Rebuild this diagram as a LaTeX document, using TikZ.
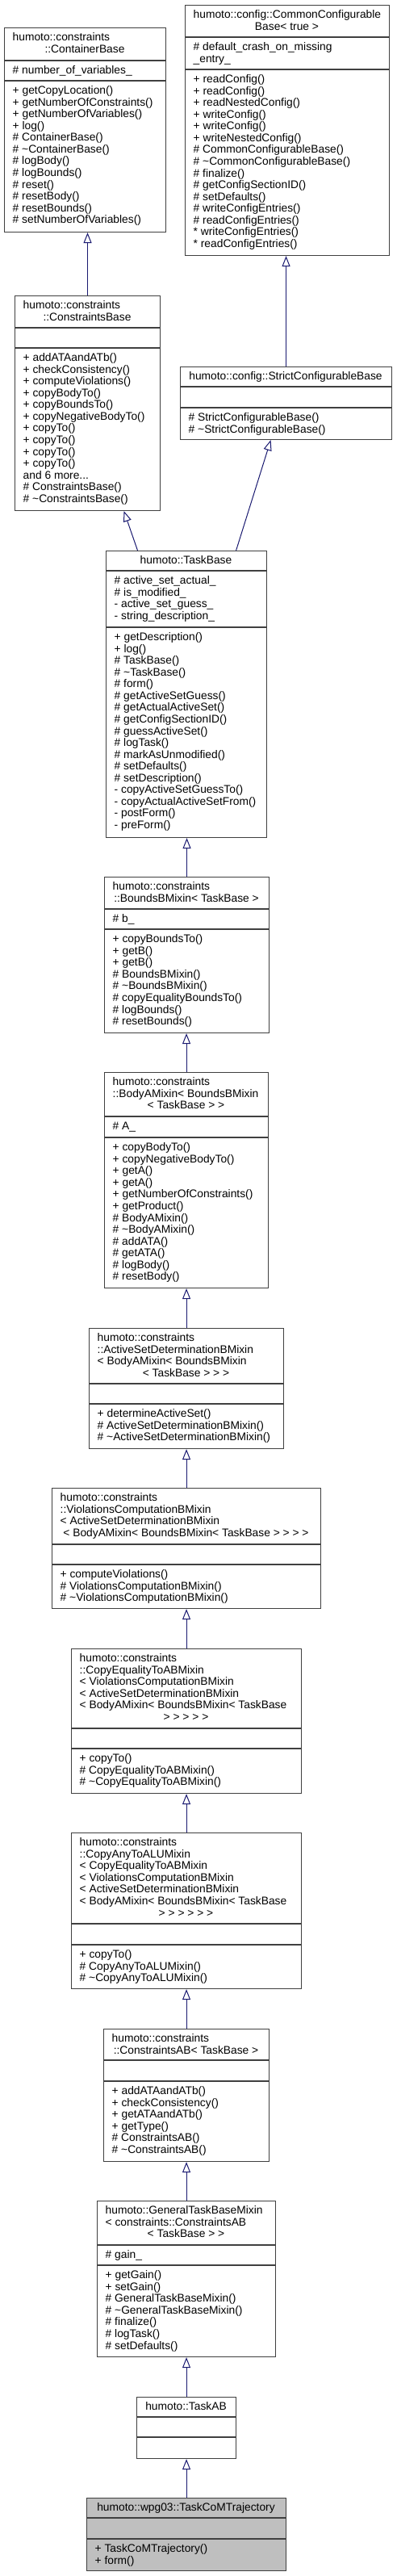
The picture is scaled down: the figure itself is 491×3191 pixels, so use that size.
\documentclass[tikz,border=0pt]{standalone}
\usepackage{fontspec}
\setmainfont{Liberation Sans}
\usetikzlibrary{arrows.meta}

\definecolor{boxgray}{HTML}{404040}
\definecolor{arrowblue}{HTML}{191970}
\definecolor{leafgray}{HTML}{BFBFBF}

\newcommand{\umlfont}{\fontsize{13.8}{14.55}\selectfont}

\tikzset{
	classbox/.style={draw=boxgray, line width=1.1pt, fill=white, inner sep=0pt, anchor=north west},
	classsep/.style={draw=boxgray, line width=1.1pt},
	member/.style={inner sep=0pt, anchor=north west, align=left, font=\umlfont},
	nameline/.style={inner sep=0pt, anchor=north, font=\umlfont},
	inheritance/.style={draw=arrowblue, line width=1pt, -{Triangle[open, length=13pt, width=10pt]}}
}

\begin{document}
\begin{tikzpicture}[x=1pt, y=-1pt]
	\fill[white] (0,0) rectangle (491,3191);
	\useasboundingbox (0,0) rectangle (491,3191);
	
	% ContainerBase
	\node[classbox, minimum width=200pt, minimum height=253pt] (ContainerBase) at (5,34) {};
	\draw[classsep] (5,75) -- (205,75);
	\draw[classsep] (5,100) -- (205,100);
	\node[member] (ContainerBase-name) at (15.5,40.3) {\strut humoto::constraints};
	\node[nameline] (ContainerBase-name2) at (105,54.85) {\strut ::ContainerBase};
	\node[member] (ContainerBase-attr) at (15.5,81.3) {\strut \# number\_of\_variables\_};
	\node[member] (ContainerBase-ops) at (15.5,106.3) {\strut + getCopyLocation()\\+ getNumberOfConstraints()\\+ getNumberOfVariables()\\+ log()\\\# ContainerBase()\\\# \textasciitilde ContainerBase()\\\# logBody()\\\# logBounds()\\\# reset()\\\# resetBody()\\\# resetBounds()\\\# setNumberOfVariables()};
	
	% CommonConfigurableBase
	\node[classbox, minimum width=253pt, minimum height=310pt] (CommonConfigurableBase) at (229,6) {};
	\draw[classsep] (229,46) -- (482,46);
	\draw[classsep] (229,86) -- (482,86);
	\node[member] (CommonConfigurableBase-name) at (239.5,12.3) {\strut humoto::config::CommonConfigurable};
	\node[nameline] (CommonConfigurableBase-name2) at (355.5,26.85) {\strut Base< true >};
	\node[member] (CommonConfigurableBase-attr) at (239.5,52.3) {\strut \# default\_crash\_on\_missing\\\_entry\_};
	\node[member] (CommonConfigurableBase-ops) at (239.5,92.3) {\strut + readConfig()\\+ readConfig()\\+ readNestedConfig()\\+ writeConfig()\\+ writeConfig()\\+ writeNestedConfig()\\\# CommonConfigurableBase()\\\# \textasciitilde CommonConfigurableBase()\\\# finalize()\\\# getConfigSectionID()\\\# setDefaults()\\\# writeConfigEntries()\\\# readConfigEntries()\\* writeConfigEntries()\\* readConfigEntries()};
	
	% ConstraintsBase
	\node[classbox, minimum width=180pt, minimum height=266pt] (ConstraintsBase) at (18,366) {};
	\draw[classsep] (18,406) -- (198,406);
	\draw[classsep] (18,431) -- (198,431);
	\node[member] (ConstraintsBase-name) at (28.5,372.3) {\strut humoto::constraints};
	\node[nameline] (ConstraintsBase-name2) at (108,386.85) {\strut ::ConstraintsBase};
	\node[member] (ConstraintsBase-ops) at (28.5,437.3) {\strut + addATAandATb()\\+ checkConsistency()\\+ computeViolations()\\+ copyBodyTo()\\+ copyBoundsTo()\\+ copyNegativeBodyTo()\\+ copyTo()\\+ copyTo()\\+ copyTo()\\+ copyTo()\\and 6 more...\\\# ConstraintsBase()\\\# \textasciitilde ConstraintsBase()};
	
	% StrictConfigurableBase
	\node[classbox, minimum width=262pt, minimum height=90pt] (StrictConfigurableBase) at (223,454) {};
	\draw[classsep] (223,479) -- (485,479);
	\draw[classsep] (223,505) -- (485,505);
	\node[nameline] (StrictConfigurableBase-name) at (354,460.3) {\strut humoto::config::StrictConfigurableBase};
	\node[member] (StrictConfigurableBase-ops) at (233.5,511.3) {\strut \# StrictConfigurableBase()\\\# \textasciitilde StrictConfigurableBase()};
	
	% TaskBase
	\node[classbox, minimum width=199pt, minimum height=355pt] (TaskBase) at (131,682) {};
	\draw[classsep] (131,707) -- (330,707);
	\draw[classsep] (131,777) -- (330,777);
	\node[nameline] (TaskBase-name) at (230.5,688.3) {\strut humoto::TaskBase};
	\node[member] (TaskBase-attr) at (141.5,713.3) {\strut \# active\_set\_actual\_\\\# is\_modified\_\\- active\_set\_guess\_\\- string\_description\_};
	\node[member] (TaskBase-ops) at (141.5,783.3) {\strut + getDescription()\\+ log()\\\# TaskBase()\\\# \textasciitilde TaskBase()\\\# form()\\\# getActiveSetGuess()\\\# getActualActiveSet()\\\# getConfigSectionID()\\\# guessActiveSet()\\\# logTask()\\\# markAsUnmodified()\\\# setDefaults()\\\# setDescription()\\- copyActiveSetGuessTo()\\- copyActualActiveSetFrom()\\- postForm()\\- preForm()};
	
	% BoundsBMixin
	\node[classbox, minimum width=204pt, minimum height=193pt] (BoundsBMixin) at (129,1086) {};
	\draw[classsep] (129,1126) -- (333,1126);
	\draw[classsep] (129,1151) -- (333,1151);
	\node[member] (BoundsBMixin-name) at (139.5,1092.3) {\strut humoto::constraints};
	\node[nameline] (BoundsBMixin-name2) at (231,1106.85) {\strut ::BoundsBMixin< TaskBase >};
	\node[member] (BoundsBMixin-attr) at (139.5,1132.3) {\strut \# b\_};
	\node[member] (BoundsBMixin-ops) at (139.5,1157.3) {\strut + copyBoundsTo()\\+ getB()\\+ getB()\\\# BoundsBMixin()\\\# \textasciitilde BoundsBMixin()\\\# copyEqualityBoundsTo()\\\# logBounds()\\\# resetBounds()};
	
	% BodyAMixin
	\node[classbox, minimum width=203pt, minimum height=267pt] (BodyAMixin) at (129,1328) {};
	\draw[classsep] (129,1383) -- (332,1383);
	\draw[classsep] (129,1409) -- (332,1409);
	\node[member] (BodyAMixin-name) at (139.5,1334.3) {\strut humoto::constraints\\::BodyAMixin< BoundsBMixin};
	\node[nameline] (BodyAMixin-name2) at (230.5,1363.4) {\strut < TaskBase > >};
	\node[member] (BodyAMixin-attr) at (139.5,1389.3) {\strut \# A\_};
	\node[member] (BodyAMixin-ops) at (139.5,1415.3) {\strut + copyBodyTo()\\+ copyNegativeBodyTo()\\+ getA()\\+ getA()\\+ getNumberOfConstraints()\\+ getProduct()\\\# BodyAMixin()\\\# \textasciitilde BodyAMixin()\\\# addATA()\\\# getATA()\\\# logBody()\\\# resetBody()};
	
	% ActiveSetDeterminationBMixin
	\node[classbox, minimum width=241pt, minimum height=149pt] (ActiveSetDetermination) at (110,1645) {};
	\draw[classsep] (110,1714) -- (351,1714);
	\draw[classsep] (110,1739) -- (351,1739);
	\node[member] (ActiveSetDetermination-name) at (120.5,1651.3) {\strut humoto::constraints\\::ActiveSetDeterminationBMixin\\< BodyAMixin< BoundsBMixin};
	\node[nameline] (ActiveSetDetermination-name2) at (230.5,1694.95) {\strut < TaskBase > > >};
	\node[member] (ActiveSetDetermination-ops) at (120.5,1745.3) {\strut + determineActiveSet()\\\# ActiveSetDeterminationBMixin()\\\# \textasciitilde ActiveSetDeterminationBMixin()};
	
	% ViolationsComputationBMixin
	\node[classbox, minimum width=333pt, minimum height=149pt] (ViolationsComputation) at (64,1843) {};
	\draw[classsep] (64,1913) -- (397,1913);
	\draw[classsep] (64,1938) -- (397,1938);
	\node[member] (ViolationsComputation-name) at (74.5,1849.3) {\strut humoto::constraints\\::ViolationsComputationBMixin\\< ActiveSetDeterminationBMixin};
	\node[nameline] (ViolationsComputation-name2) at (230.5,1892.95) {\strut < BodyAMixin< BoundsBMixin< TaskBase > > > >};
	\node[member] (ViolationsComputation-ops) at (74.5,1944.3) {\strut + computeViolations()\\\# ViolationsComputationBMixin()\\\# \textasciitilde ViolationsComputationBMixin()};
	
	% CopyEqualityToABMixin
	\node[classbox, minimum width=285pt, minimum height=179pt] (CopyEqualityToAB) at (88,2042) {};
	\draw[classsep] (88,2141) -- (373,2141);
	\draw[classsep] (88,2166) -- (373,2166);
	\node[member] (CopyEqualityToAB-name) at (98.5,2048.3) {\strut humoto::constraints\\::CopyEqualityToABMixin\\< ViolationsComputationBMixin\\< ActiveSetDeterminationBMixin\\< BodyAMixin< BoundsBMixin< TaskBase};
	\node[nameline] (CopyEqualityToAB-name2) at (230.5,2121.05) {\strut > > > > >};
	\node[member] (CopyEqualityToAB-ops) at (98.5,2172.3) {\strut + copyTo()\\\# CopyEqualityToABMixin()\\\# \textasciitilde CopyEqualityToABMixin()};
	
	% CopyAnyToALUMixin
	\node[classbox, minimum width=285pt, minimum height=193pt] (CopyAnyToALU) at (88,2270) {};
	\draw[classsep] (88,2383) -- (373,2383);
	\draw[classsep] (88,2409) -- (373,2409);
	\node[member] (CopyAnyToALU-name) at (98.5,2276.3) {\strut humoto::constraints\\::CopyAnyToALUMixin\\< CopyEqualityToABMixin\\< ViolationsComputationBMixin\\< ActiveSetDeterminationBMixin\\< BodyAMixin< BoundsBMixin< TaskBase};
	\node[nameline] (CopyAnyToALU-name2) at (230.5,2363.6) {\strut > > > > > >};
	\node[member] (CopyAnyToALU-ops) at (98.5,2415.3) {\strut + copyTo()\\\# CopyAnyToALUMixin()\\\# \textasciitilde CopyAnyToALUMixin()};
	
	% ConstraintsAB
	\node[classbox, minimum width=205pt, minimum height=164pt] (ConstraintsAB) at (128,2513) {};
	\draw[classsep] (128,2552) -- (333,2552);
	\draw[classsep] (128,2578) -- (333,2578);
	\node[member] (ConstraintsAB-name) at (138.5,2519.3) {\strut humoto::constraints};
	\node[nameline] (ConstraintsAB-name2) at (230.5,2533.85) {\strut ::ConstraintsAB< TaskBase >};
	\node[member] (ConstraintsAB-ops) at (138.5,2584.3) {\strut + addATAandATb()\\+ checkConsistency()\\+ getATAandATb()\\+ getType()\\\# ConstraintsAB()\\\# \textasciitilde ConstraintsAB()};
	
	% GeneralTaskBaseMixin
	\node[classbox, minimum width=221pt, minimum height=193pt] (GeneralTaskBaseMixin) at (120,2726) {};
	\draw[classsep] (120,2781) -- (341,2781);
	\draw[classsep] (120,2806) -- (341,2806);
	\node[member] (GeneralTaskBaseMixin-name) at (130.5,2732.3) {\strut humoto::GeneralTaskBaseMixin\\< constraints::ConstraintsAB};
	\node[nameline] (GeneralTaskBaseMixin-name2) at (230.5,2761.4) {\strut < TaskBase > >};
	\node[member] (GeneralTaskBaseMixin-attr) at (130.5,2787.3) {\strut \# gain\_};
	\node[member] (GeneralTaskBaseMixin-ops) at (130.5,2812.3) {\strut + getGain()\\+ setGain()\\\# GeneralTaskBaseMixin()\\\# \textasciitilde GeneralTaskBaseMixin()\\\# finalize()\\\# logTask()\\\# setDefaults()};
	
	% TaskAB
	\node[classbox, minimum width=123pt, minimum height=76pt] (TaskAB) at (169,2969) {};
	\draw[classsep] (169,2994) -- (292,2994);
	\draw[classsep] (169,3019) -- (292,3019);
	\node[nameline] (TaskAB-name) at (230.5,2975.3) {\strut humoto::TaskAB};
	
	% TaskCoMTrajectory
	\node[classbox, fill=leafgray, minimum width=247pt, minimum height=90pt] (TaskCoMTrajectory) at (107,3094) {};
	\draw[classsep] (107,3119) -- (354,3119);
	\draw[classsep] (107,3145) -- (354,3145);
	\node[nameline] (TaskCoMTrajectory-name) at (230.5,3100.3) {\strut humoto::wpg03::TaskCoMTrajectory};
	\node[member] (TaskCoMTrajectory-ops) at (117.5,3151.3) {\strut + TaskCoMTrajectory()\\+ form()};
	
	% inheritance
	\draw[inheritance] (ConstraintsBase.north) -- (ConstraintsBase.north |- ContainerBase.south);
	\draw[inheritance] (StrictConfigurableBase.north) -- (StrictConfigurableBase.north |- CommonConfigurableBase.south);
	\draw[inheritance] ([xshift=-60.5pt]TaskBase.north) -- ([xshift=45pt]ConstraintsBase.south);
	\draw[inheritance] ([xshift=61.5pt]TaskBase.north) -- ([xshift=-19pt]StrictConfigurableBase.south);
	\foreach \child/\parent in {BoundsBMixin/TaskBase, BodyAMixin/BoundsBMixin, ActiveSetDetermination/BodyAMixin, ViolationsComputation/ActiveSetDetermination, CopyEqualityToAB/ViolationsComputation, CopyAnyToALU/CopyEqualityToAB, ConstraintsAB/CopyAnyToALU, GeneralTaskBaseMixin/ConstraintsAB, TaskAB/GeneralTaskBaseMixin, TaskCoMTrajectory/TaskAB}
		\draw[inheritance] (\child.north) -- (\child.north |- \parent.south);
\end{tikzpicture}
\end{document}
